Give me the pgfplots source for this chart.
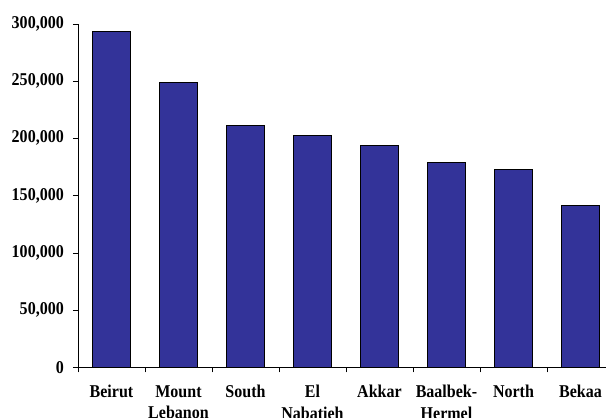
\documentclass[border=0pt]{standalone}
\usepackage{fontspec}
\setmainfont{Liberation Serif}[FakeStretch=0.89]
\usepackage{pgfplots}
\pgfplotsset{compat=1.18}
\definecolor{barblue}{RGB}{51,51,153}
\pgfplotstableread{
x y
0 293000
1 248600
2 211600
3 202600
4 193500
5 178700
6 172600
7 141500
}\datatable
\begin{document}
\fontsize{18}{21.7}\selectfont\bfseries
\begin{tikzpicture}
\begin{axis}[
  at={(0,0)}, anchor=south west,
  scale only axis, width=536pt, height=343.5pt,
  xmin=-0.5, xmax=7.5, ymin=0, ymax=300000,
  axis lines*=left,
  axis line style={-, line width=0.8pt, black},
  tick align=outside,
  major tick length=5pt, minor tick length=5pt,
  xtick={0,...,7},
  xticklabels={Beirut,Mount\\Lebanon,South,El\\Nabatieh,Akkar,Baalbek-\\Hermel,North,Bekaa},
  major x tick style={draw=none},
  minor xtick={-0.5,0.5,1.5,2.5,3.5,4.5,5.5,6.5},
  minor x tick style={black, line width=0.6pt},
  ytick={0,50000,...,300000},
  y tick style={black, line width=0.6pt},
  scaled y ticks=false,
  yticklabel style={/pgf/number format/fixed, /pgf/number format/precision=0, /pgf/number format/1000 sep={,}, xshift=-3pt},
  /pgf/number format/assume math mode=true,
  tick label style={font=\fontsize{18}{21.7}\selectfont\bfseries},
  xticklabel style={align=center, yshift=-7pt},
  ybar, bar width=38pt,
]
\addplot[fill=barblue, draw=black, line width=0.8pt] table[x=x, y=y] {\datatable};
\end{axis}
\pgfresetboundingbox
\path[use as bounding box] (-78pt,-50.7pt) rectangle (528pt,367.3pt);
\end{tikzpicture}
\end{document}
